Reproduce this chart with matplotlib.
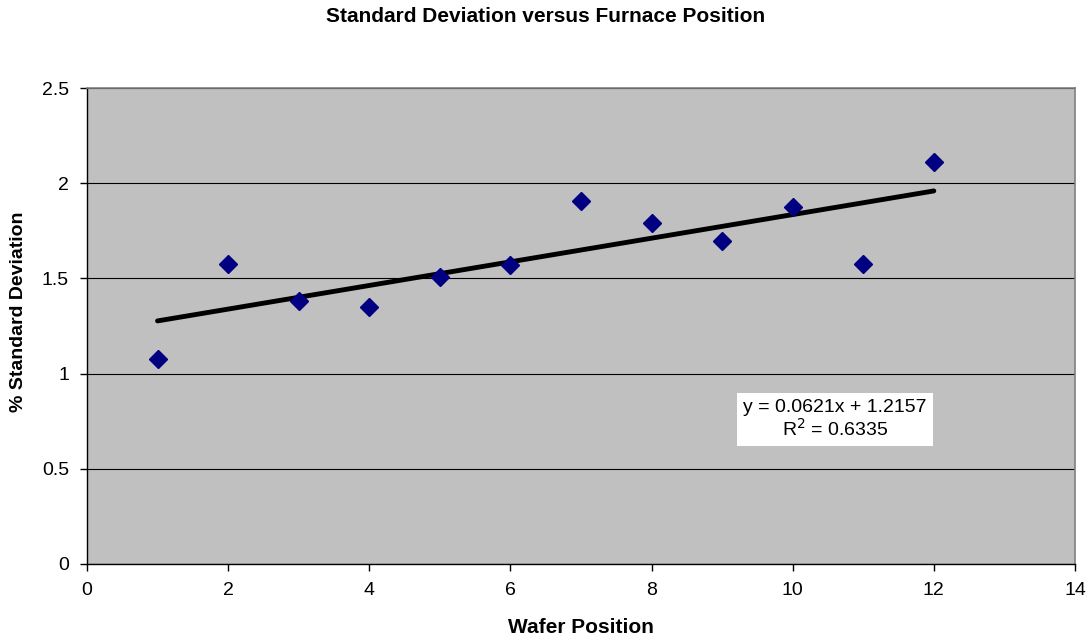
import matplotlib
matplotlib.use("Agg")
import matplotlib.pyplot as plt
import numpy as np

plt.rcParams['font.family'] = ['Liberation Sans', 'DejaVu Sans']

wafer_position = [1, 2, 3, 4, 5, 6, 7, 8, 9, 10, 11, 12]
pct_std_dev = [1.077, 1.576, 1.381, 1.350, 1.507, 1.570, 1.907, 1.791, 1.696, 1.875, 1.576, 2.111]
x_ticks = [0, 2, 4, 6, 8, 10, 12, 14]
y_ticks = [0, 0.5, 1, 1.5, 2, 2.5]

fig = plt.figure(figsize=(10.91, 6.42), dpi=100)
ax = fig.add_axes([0.0797, 0.1215, 0.9056, 0.7414])
ax.set_facecolor('#c0c0c0')

ax.set_xlim(0, 14)
ax.set_ylim(0, 2.5)
ax.set_xticks(x_ticks)
ax.set_yticks(y_ticks)
ax.set_yticklabels(['0', '0.5', '1', '1.5', '2', '2.5'])
ax.grid(axis='y', color='#000000', linewidth=0.8)
ax.set_axisbelow(True)

for side in ('top', 'right'):
    ax.spines[side].set_color('#808080')
    ax.spines[side].set_linewidth(1.2)
for side in ('left', 'bottom'):
    ax.spines[side].set_color('#000000')
    ax.spines[side].set_linewidth(1.0)
ax.tick_params(direction='out', length=5, width=1, labelsize=14, pad=8)

# linear least-squares trend line over the data range
x = np.array(wafer_position, dtype=float)
y = np.array(pct_std_dev)
slope, intercept = np.polyfit(x, y, 1)
xl = np.array([x.min(), x.max()])
ax.plot(xl, slope * xl + intercept, color='black', linewidth=3.5,
        solid_capstyle='round', zorder=3)

ax.plot(wafer_position, pct_std_dev, linestyle='none', marker='D',
        markersize=9, color='#000080', zorder=4, clip_on=False)

ax.text(10.6, 0.76, 'y = 0.0621x + 1.2157\nR$^2$ = 0.6335', ha='center', va='center',
        fontsize=14, linespacing=1.15, zorder=5,
        bbox=dict(boxstyle='square,pad=0.3', facecolor='white', edgecolor='none'))

ax.set_xlabel('Wafer Position', fontsize=15, fontweight='bold', labelpad=14)
ax.set_ylabel('% Standard Deviation', fontsize=14, fontweight='bold')
ax.yaxis.set_label_coords(-0.061, 0.529)
fig.text(0.5, 0.974, 'Standard Deviation versus Furnace Position', ha='center',
         va='center', fontsize=15, fontweight='bold')

fig.savefig('out.png', dpi=100)
